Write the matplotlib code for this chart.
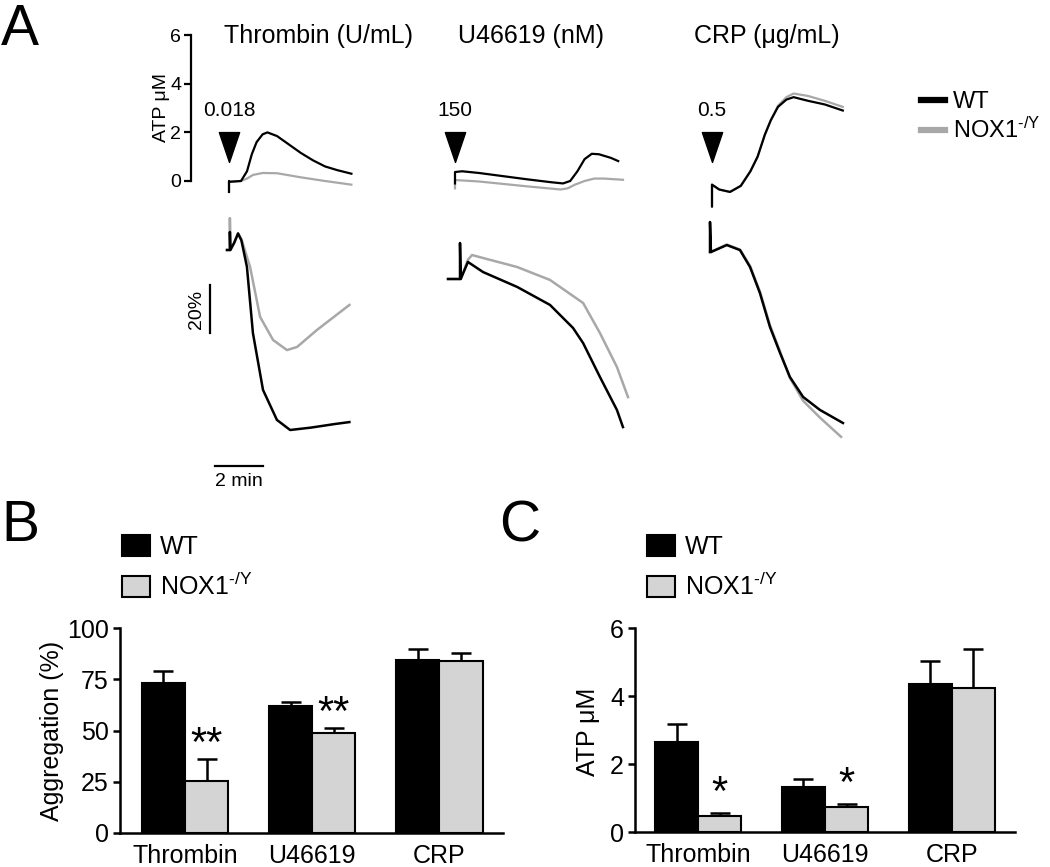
import numpy as np
import matplotlib
matplotlib.use("Agg")
import matplotlib.pyplot as plt
from matplotlib.lines import Line2D
from matplotlib.patches import Patch
from matplotlib.path import Path

plt.rcParams['font.family'] = ['Liberation Sans', 'DejaVu Sans']
plt.rcParams['mathtext.fontset'] = 'custom'
plt.rcParams['mathtext.rm'] = 'Liberation Sans'
plt.rcParams['mathtext.it'] = 'Liberation Sans:italic'

# ---------------- data: panel A traces (time in min from agonist addition) -------------
agonists = ["Thrombin (U/mL)", "U46619 (nM)", "CRP (\u03bcg/mL)"]
doses = ["0.018", "150", "0.5"]

# ATP release (uM)
thr_atp_t_wt = [0, 0, 0.05, 0.5, 0.75, 0.95, 1.15, 1.4, 1.6, 2.0, 2.5, 3.0, 3.5, 4.0, 4.5, 5.1]
thr_atp_wt = [-0.45, 0.0, -0.03, 0.0, 0.4, 1.1, 1.6, 1.92, 2.0, 1.85, 1.5, 1.15, 0.85, 0.6, 0.45, 0.3]
thr_atp_t_ko = [0, 0, 0.05, 0.5, 0.75, 1.0, 1.4, 2.0, 3.0, 4.0, 5.1]
thr_atp_ko = [-0.4, 0.0, -0.03, 0.0, 0.1, 0.25, 0.33, 0.32, 0.15, 0.0, -0.15]

u46_atp_t_wt = [0, 0, 0.3, 1.0, 2.0, 3.0, 4.0, 4.5, 4.8, 5.1, 5.4, 5.7, 6.0, 6.5, 6.8]
u46_atp_wt = [-0.1, 0.37, 0.4, 0.33, 0.2, 0.07, -0.05, -0.1, 0.0, 0.4, 0.9, 1.12, 1.1, 0.95, 0.82]
u46_atp_t_ko = [0, 0, 1.0, 2.0, 3.0, 4.4, 4.7, 5.0, 5.4, 5.8, 6.2, 7.0]
u46_atp_ko = [-0.3, 0.04, -0.02, -0.12, -0.22, -0.35, -0.3, -0.15, 0.0, 0.1, 0.1, 0.05]

crp_atp_t_wt = [0, 0, 0.3, 0.75, 1.2, 1.6, 1.9, 2.2, 2.45, 2.75, 3.1, 3.4, 4.0, 4.7, 5.45]
crp_atp_wt = [-1.05, -0.15, -0.35, -0.45, -0.2, 0.4, 1.0, 1.9, 2.5, 3.05, 3.35, 3.45, 3.3, 3.15, 2.9]
crp_atp_t_ko = [0, 0, 0.3, 0.75, 1.2, 1.6, 1.9, 2.2, 2.45, 2.75, 3.1, 3.4, 4.0, 4.7, 5.45]
crp_atp_ko = [-1.0, -0.15, -0.35, -0.45, -0.2, 0.4, 1.0, 1.9, 2.5, 3.1, 3.45, 3.6, 3.5, 3.3, 3.05]

# Aggregation (% light transmission change, relative to baseline; positive = aggregation)
thr_agg_t_wt = [0, 0.12, 0.12, 0.14, 0.3, 0.46, 0.6, 0.83, 1.08, 1.5, 2.08, 2.63, 3.5, 4.5, 5.1]
thr_agg_wt = [0, 0, -7.5, 0, -3, -6.9, -4, 7, 34.6, 58.3, 70.8, 75, 74, 72.5, 71.7]
thr_agg_t_ko = [0, 0.12, 0.12, 0.14, 0.3, 0.46, 0.6, 0.96, 1.38, 1.92, 2.5, 2.92, 3.75, 5.1]
thr_agg_ko = [0, 0, -13.3, 0, -3, -6.9, -4.5, 7, 27.9, 37.5, 41.7, 40.4, 33.3, 22.9]

u46_agg_t_wt = [0, 0.5, 0.5, 0.53, 0.83, 1.46, 2.88, 4.25, 5.21, 5.63, 6.33, 7.04, 7.29]
u46_agg_wt = [0, 0, -15, 0, -7.1, -2.9, 3.3, 10.8, 20.4, 26.7, 40.8, 54.6, 61.7]
u46_agg_t_ko = [0, 0.5, 0.53, 0.83, 1.0, 1.46, 2.88, 4.25, 5.63, 6.33, 7.04, 7.5]
u46_agg_ko = [0, 0, 0, -8, -10, -8.75, -5, 0.4, 10, 22.5, 36.7, 49.2]

crp_agg_t_wt = [0, 0, 0.04, 0.7, 1.25, 1.67, 2.08, 2.5, 2.92, 3.33, 3.88, 4.58, 5.54]
crp_agg_wt = [0, -12.5, 0, -2.9, -0.8, 6.3, 17.1, 31.3, 42.1, 52.1, 60.4, 65.8, 71.25]
crp_agg_t_ko = [0, 0.04, 0.7, 1.25, 1.67, 2.08, 2.5, 2.92, 3.33, 3.88, 4.58, 5.46]
crp_agg_ko = [0, 0, -3.1, -1.0, 5.8, 16.5, 30.5, 41.5, 52.5, 62, 69, 77]

atp_ticks = [0, 2, 4, 6]

# ---------------- data: panels B and C ----------------
categories = ["Thrombin", "U46619", "CRP"]
agg_wt = [73.2, 62.0, 84.4]
agg_wt_err = [5.8, 2.0, 5.4]
agg_ko = [25.4, 48.8, 83.9]
agg_ko_err = [10.7, 2.4, 3.9]
agg_sig = ["**", "**", ""]
agg_ticks = [0, 25, 50, 75, 100]

atp_wt = [2.65, 1.32, 4.35]
atp_wt_err = [0.53, 0.24, 0.68]
atp_ko = [0.47, 0.74, 4.24]
atp_ko_err = [0.09, 0.08, 1.14]
atp_sig = ["*", "*", ""]
atp_bar_ticks = [0, 2, 4, 6]

series = ["WT", "NOX1$^{\\mathrm{\u2010/Y}}$"]

# ---------------- styling ----------------
BLACK = "black"
TRACE_GREY = "#a8a8a8"
BAR_GREY = "#d4d4d4"

W, H = 1050, 867
fig = plt.figure(figsize=(W / 100, H / 100), dpi=100)


def axpx(x0, y0, x1, y1):
    return fig.add_axes([x0 / W, 1 - y1 / H, (x1 - x0) / W, (y1 - y0) / H])


def ftext(x, y, s, **kw):
    return fig.text(x / W, 1 - y / H, s, **kw)


PX_PER_MIN = 24.0
ATP_PX = 24.3
AGG_PX = 2.4

# ---- top traces (ATP) ----
ax_top = axpx(191, 20, 1050, 214)
ax_top.set_xlim(0, (1050 - 191) / PX_PER_MIN)
ax_top.set_ylim(-(214 - 181) / ATP_PX, (181 - 20) / ATP_PX)
ax_top.patch.set_alpha(0)
for s in ["top", "right", "bottom"]:
    ax_top.spines[s].set_visible(False)
ax_top.spines["left"].set_bounds(0, 6)
ax_top.spines["left"].set_linewidth(1.6)
ax_top.set_xticks([])
ax_top.set_yticks(atp_ticks)
ax_top.tick_params(axis="y", length=5, width=1.6, labelsize=14, pad=2)

top_start = [(p - 191) / PX_PER_MIN for p in (229, 455, 712)]
atp_traces = [
    (thr_atp_t_wt, thr_atp_wt, thr_atp_t_ko, thr_atp_ko),
    (u46_atp_t_wt, u46_atp_wt, u46_atp_t_ko, u46_atp_ko),
    (crp_atp_t_wt, crp_atp_wt, crp_atp_t_ko, crp_atp_ko),
]
tri = Path([(-0.68, 1), (0.68, 1), (0, -1), (-0.68, 1)],
           [Path.MOVETO, Path.LINETO, Path.LINETO, Path.CLOSEPOLY])
for x0, (tw, yw, tk, yk), dose in zip(top_start, atp_traces, doses):
    ax_top.plot(np.array(tk) + x0, yk, color=TRACE_GREY, lw=1.6, clip_on=False)
    ax_top.plot(np.array(tw) + x0, yw, color=BLACK, lw=1.6, clip_on=False)
    ax_top.plot([x0], [(181 - 147) / ATP_PX], marker=tri, ms=21.5,
                color=BLACK, ls="none")
    ax_top.text(x0, (181 - 111) / ATP_PX, dose, ha="center", va="center", fontsize=15)

ax_top.legend([Line2D([], [], color=BLACK, lw=4.5), Line2D([], [], color=TRACE_GREY, lw=4.5)],
              series, loc="upper left", bbox_to_anchor=(921 / W, 1 - 91 / H),
              bbox_transform=fig.transFigure, frameon=False, fontsize=17,
              handlelength=1.0, handletextpad=0.35, labelspacing=0.2,
              borderpad=0, borderaxespad=0)

# ---- bottom traces (aggregation) ----
ax_bot = axpx(191, 214, 1050, 500)
ax_bot.set_xlim(0, (1050 - 191) / PX_PER_MIN)
ax_bot.set_ylim((500 - 250) / AGG_PX, (214 - 250) / AGG_PX)
ax_bot.axis("off")
bot_start = [(p - 191) / PX_PER_MIN for p in (227, 448, 710)]
bot_base = [(p - 250) / AGG_PX for p in (250, 279, 252)]
agg_traces = [
    (thr_agg_t_wt, thr_agg_wt, thr_agg_t_ko, thr_agg_ko),
    (u46_agg_t_wt, u46_agg_wt, u46_agg_t_ko, u46_agg_ko),
    (crp_agg_t_wt, crp_agg_wt, crp_agg_t_ko, crp_agg_ko),
]
for x0, b0, (tw, yw, tk, yk) in zip(bot_start, bot_base, agg_traces):
    ax_bot.plot(np.array(tk) + x0, np.array(yk) + b0, color=TRACE_GREY, lw=1.8, clip_on=False)
    ax_bot.plot(np.array(tw) + x0, np.array(yw) + b0, color=BLACK, lw=1.8, clip_on=False)

# scale bars
sx = (210 - 191) / PX_PER_MIN
sy0 = (285 - 250) / AGG_PX
ax_bot.plot([sx, sx], [sy0, sy0 + 20], color=BLACK, lw=1.6, clip_on=False)
ty = (466 - 250) / AGG_PX
tx0 = (215 - 191) / PX_PER_MIN
ax_bot.plot([tx0, tx0 + 2], [ty, ty], color=BLACK, lw=1.6, clip_on=False)
ftext(197, 309, "20%", rotation=90, ha="center", va="center", fontsize=14)
ftext(239, 481, "2 min", ha="center", va="center", fontsize=14)

# titles / labels panel A
for xc, name in zip((319, 531, 767), agonists):
    ftext(xc, 36, name, ha="center", va="center", fontsize=18)
ftext(162, 107, "ATP \u03bcM", rotation=90, ha="center", va="center", fontsize=14)

# panel letters
ftext(1, 45, "A", fontsize=41, va="baseline", ha="left")
ftext(1, 541, "B", fontsize=41, va="baseline", ha="left")
ftext(499, 541, "C", fontsize=41, va="baseline", ha="left")


# ---- bar panels ----
def bar_panel(ax, wt, wt_err, ko, ko_err, ylim, yticks, sig, star_pts, xlim, legend_xy):
    x = np.arange(len(categories))
    w = 0.34
    ax.bar(x - w / 2, wt, w, color=BLACK, edgecolor=BLACK, lw=1.5, zorder=3)
    ax.bar(x + w / 2, ko, w, color=BAR_GREY, edgecolor=BLACK, lw=1.5, zorder=3)
    ax.errorbar(x - w / 2, wt, yerr=[np.zeros(len(wt)), wt_err], fmt="none", ecolor=BLACK,
                elinewidth=1.8, capsize=7, capthick=1.8, zorder=2)
    ax.errorbar(x + w / 2, ko, yerr=[np.zeros(len(ko)), ko_err], fmt="none", ecolor=BLACK,
                elinewidth=1.8, capsize=7, capthick=1.8, zorder=2)
    for xi, v, e, s in zip(x + w / 2, ko, ko_err, sig):
        if s:
            ax.annotate(s, xy=(xi, v + e), xytext=(0, star_pts), textcoords="offset points",
                        ha="center", va="baseline", fontsize=30)
    ax.set_ylim(*ylim)
    ax.set_xlim(*xlim)
    ax.set_yticks(yticks)
    ax.set_xticks(x)
    ax.set_xticklabels(categories)
    for s in ["top", "right"]:
        ax.spines[s].set_visible(False)
    for s in ["left", "bottom"]:
        ax.spines[s].set_linewidth(1.8)
    ax.tick_params(axis="y", length=5, width=1.8, labelsize=18, pad=3)
    ax.tick_params(axis="x", length=0, labelsize=18, pad=8)
    ax.patch.set_alpha(0)
    ax.legend([Patch(facecolor=BLACK, edgecolor=BLACK, lw=1.5),
               Patch(facecolor=BAR_GREY, edgecolor=BLACK, lw=1.5)], series,
              loc="upper left", bbox_to_anchor=(legend_xy[0] / W, 1 - legend_xy[1] / H),
              bbox_transform=fig.transFigure, frameon=False, fontsize=18,
              handlelength=1.12, handleheight=0.92, handletextpad=0.4, labelspacing=0.55,
              borderpad=0, borderaxespad=0)


axB = axpx(120, 628, 503, 833)
bar_panel(axB, agg_wt, agg_wt_err, agg_ko, agg_ko_err, (0, 100), agg_ticks, agg_sig, 2,
          (-0.51, 2.5), (122, 535))
ftext(52, 731, "Aggregation (%)", rotation=90, ha="center", va="center", fontsize=18)

axC = axpx(635, 628, 1015, 832)
bar_panel(axC, atp_wt, atp_wt_err, atp_ko, atp_ko_err, (0, 6), atp_bar_ticks, atp_sig, 6,
          (-0.5, 2.5), (647, 535))
ftext(588, 732, "ATP \u03bcM", rotation=90, ha="center", va="center", fontsize=18)

fig.savefig("out.png", dpi=100)
